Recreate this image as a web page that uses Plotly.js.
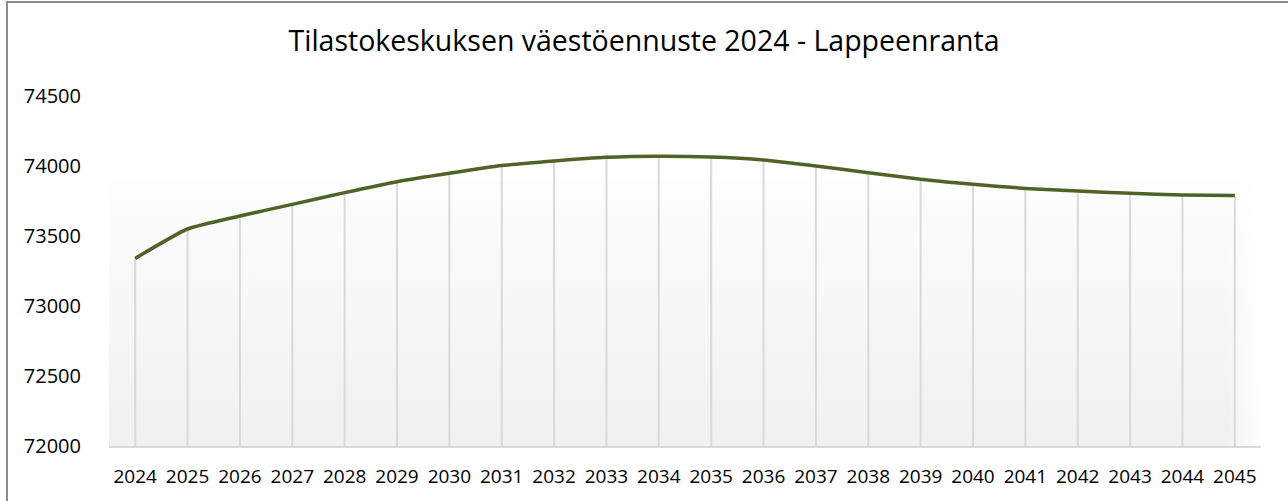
<!DOCTYPE html>
<html>
<head>
<meta charset="utf-8">
<script src="https://cdn.plot.ly/plotly-3.0.1.min.js"></script>
<style>
  html, body { margin: 0; padding: 0; background: #ffffff; }
  #wrap { position: relative; width: 1288px; height: 501px; overflow: hidden; }
  #chart { width: 1288px; height: 501px; }
  #frame { position: absolute; left: 6px; top: 1px; width: 1290px; height: 510px;
           border-left: 2px solid #8c8c8c; border-top: 2px solid #8c8c8c; pointer-events: none; }
</style>
</head>
<body>
<div id="wrap">
  <div id="chart"></div>
  <div id="frame"></div>
</div>
<script>
const chartTitle = "Tilastokeskuksen väestöennuste 2024 - Lappeenranta";
const years = ["2024","2025","2026","2027","2028","2029","2030","2031","2032","2033","2034",
               "2035","2036","2037","2038","2039","2040","2041","2042","2043","2044","2045"];
const population = [73340, 73550, 73643, 73726, 73810, 73888, 73948, 74003, 74036, 74062, 74070,
                    74064, 74043, 74000, 73952, 73905, 73869, 73840, 73821, 73805, 73793, 73790];
const yTicks = [72000, 72500, 73000, 73500, 74000, 74500];
const yMin = 72000, yMax = 74500;

// drop lines from each point down to the axis
const dropX = [], dropY = [];
years.forEach((yr, i) => { dropX.push(yr, yr, null); dropY.push(yMin, population[i], null); });

const gradSvg = '<svg xmlns="http://www.w3.org/2000/svg" width="100" height="100" preserveAspectRatio="none">' +
  '<defs><linearGradient id="g" x1="0" y1="0" x2="0" y2="1">' +
  '<stop offset="0" stop-color="#fdfdfd"/><stop offset="1" stop-color="#f0f0f0"/></linearGradient>' +
  '<linearGradient id="h" x1="0" y1="0" x2="1" y2="0">' +
  '<stop offset="0.97" stop-color="#ffffff" stop-opacity="0"/><stop offset="1" stop-color="#ffffff" stop-opacity="1"/></linearGradient></defs>' +
  '<rect width="100" height="100" fill="url(#g)"/><rect width="100" height="100" fill="url(#h)"/></svg>';
const gradUri = 'data:image/svg+xml;charset=utf-8,' + encodeURIComponent(gradSvg);

const traces = [
  {
    x: dropX, y: dropY, type: 'scatter', mode: 'lines',
    line: { color: '#d9d9d9', width: 2 }, hoverinfo: 'skip', showlegend: false
  },
  {
    x: years, y: population, type: 'scatter', mode: 'lines',
    line: { color: '#4f6228', width: 3.5, shape: 'spline', smoothing: 0.5 },
    showlegend: false
  }
];

const layout = {
  width: 1288, height: 501,
  margin: { l: 109, r: 27, t: 96, b: 55 },
  paper_bgcolor: '#ffffff',
  plot_bgcolor: 'rgba(0,0,0,0)',
  font: { family: '"Open Sans", sans-serif', color: '#000000' },
  title: {
    text: chartTitle,
    font: { family: '"Open Sans", sans-serif', size: 28.5, color: '#000000' },
    x: 0.5, xref: 'container', xanchor: 'center', y: 0.918, yanchor: 'middle'
  },
  xaxis: {
    type: 'category', categoryorder: 'array', categoryarray: years,
    range: [-0.5, years.length - 0.5],
    showgrid: false, zeroline: false,
    showline: true, linecolor: '#d9d9d9', linewidth: 2,
    ticks: '', ticklabelstandoff: 12,
    tickfont: { size: 19, color: '#000000' }
  },
  yaxis: {
    range: [yMin, yMax], tickvals: yTicks, ticktext: yTicks.map(String),
    showgrid: false, zeroline: false, showline: false,
    ticks: '', ticklabelstandoff: 27,
    tickfont: { size: 20, color: '#000000' }
  },
  images: [{
    source: gradUri, xref: 'paper', yref: 'paper',
    x: 0, y: 0.755, sizex: 1.0, sizey: 0.755,
    xanchor: 'left', yanchor: 'top', sizing: 'stretch', layer: 'below'
  }]
};

Plotly.newPlot('chart', traces, layout, { displayModeBar: false, staticPlot: true });
</script>
</body>
</html>
